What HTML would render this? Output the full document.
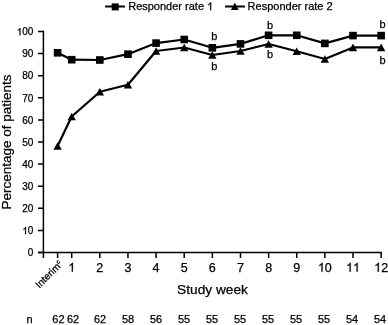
<!DOCTYPE html><html><head><meta charset="utf-8"><style>html,body{margin:0;padding:0;background:#fff;}svg{display:block;filter:grayscale(1);}text{font-family:"Liberation Sans",sans-serif;fill:#000;stroke:#000;stroke-width:0.25px;}</style></head><body>
<svg width="388" height="325" viewBox="0 0 388 325">
<rect width="388" height="325" fill="#fff"/>
<g stroke="#000" stroke-width="1.5" fill="none">
<path d="M43.4 30.65 V258 M38 252.6 H381.85"/>
<path d="M38 252.60 H43.4 M38 230.48 H43.4 M38 208.36 H43.4 M38 186.24 H43.4 M38 164.12 H43.4 M38 142.00 H43.4 M38 119.88 H43.4 M38 97.76 H43.4 M38 75.64 H43.4 M38 53.52 H43.4 M38 31.40 H43.4 "/>
<path d="M57.60 252.6 V258 M71.70 252.6 V258 M99.83 252.6 V258 M127.96 252.6 V258 M156.09 252.6 V258 M184.22 252.6 V258 M212.35 252.6 V258 M240.48 252.6 V258 M268.61 252.6 V258 M296.74 252.6 V258 M324.87 252.6 V258 M353.00 252.6 V258 M381.13 252.6 V258 "/>
</g>
<text x="27.838" y="256.400" font-size="10">0</text>
<path transform="translate(22.277 234.280) scale(0.004883 -0.004883)" stroke="#000" stroke-width="51.20" d="M763 0L583 0L583 1147Q518 1085 412 1023Q307 961 223 930L223 1104Q374 1175 487 1276Q600 1377 647 1472L763 1472Z"/><text x="27.838" y="234.280" font-size="10">0</text>
<text x="22.277" y="212.160" font-size="10">20</text>
<text x="22.277" y="190.040" font-size="10">30</text>
<text x="22.277" y="167.920" font-size="10">40</text>
<text x="22.277" y="145.800" font-size="10">50</text>
<text x="22.277" y="123.680" font-size="10">60</text>
<text x="22.277" y="101.560" font-size="10">70</text>
<text x="22.277" y="79.440" font-size="10">80</text>
<text x="22.277" y="57.320" font-size="10">90</text>
<path transform="translate(16.715 35.200) scale(0.004883 -0.004883)" stroke="#000" stroke-width="51.20" d="M763 0L583 0L583 1147Q518 1085 412 1023Q307 961 223 930L223 1104Q374 1175 487 1276Q600 1377 647 1472L763 1472Z"/><text x="22.277" y="35.200" font-size="10">00</text>
<path transform="translate(68.224 271.700) scale(0.006104 -0.006104)" stroke="#000" stroke-width="40.96" d="M763 0L583 0L583 1147Q518 1085 412 1023Q307 961 223 930L223 1104Q374 1175 487 1276Q600 1377 647 1472L763 1472Z"/>
<text x="96.354" y="271.700" font-size="12.5">2</text>
<text x="124.484" y="271.700" font-size="12.5">3</text>
<text x="152.614" y="271.700" font-size="12.5">4</text>
<text x="180.744" y="271.700" font-size="12.5">5</text>
<text x="208.874" y="271.700" font-size="12.5">6</text>
<text x="237.004" y="271.700" font-size="12.5">7</text>
<text x="265.134" y="271.700" font-size="12.5">8</text>
<text x="293.264" y="271.700" font-size="12.5">9</text>
<path transform="translate(317.918 271.700) scale(0.006104 -0.006104)" stroke="#000" stroke-width="40.96" d="M763 0L583 0L583 1147Q518 1085 412 1023Q307 961 223 930L223 1104Q374 1175 487 1276Q600 1377 647 1472L763 1472Z"/><text x="324.870" y="271.700" font-size="12.5">0</text>
<path transform="translate(346.048 271.700) scale(0.006104 -0.006104)" stroke="#000" stroke-width="40.96" d="M763 0L583 0L583 1147Q518 1085 412 1023Q307 961 223 930L223 1104Q374 1175 487 1276Q600 1377 647 1472L763 1472Z"/><path transform="translate(353.000 271.700) scale(0.006104 -0.006104)" stroke="#000" stroke-width="40.96" d="M763 0L583 0L583 1147Q518 1085 412 1023Q307 961 223 930L223 1104Q374 1175 487 1276Q600 1377 647 1472L763 1472Z"/>
<path transform="translate(374.178 271.700) scale(0.006104 -0.006104)" stroke="#000" stroke-width="40.96" d="M763 0L583 0L583 1147Q518 1085 412 1023Q307 961 223 930L223 1104Q374 1175 487 1276Q600 1377 647 1472L763 1472Z"/><text x="381.130" y="271.700" font-size="12.5">2</text>
<text transform="translate(63.2 264.9) rotate(-45)" font-size="10" text-anchor="end">Interim<tspan font-size="6" dy="-4">c</tspan></text>
<text x="212.5" y="294.3" font-size="13.7" text-anchor="middle">Study week</text>
<text transform="translate(11.1 142.0) rotate(-90)" font-size="13.5" text-anchor="middle">Percentage of patients</text>
<g stroke="#000" stroke-width="2.2" fill="none" stroke-linejoin="round">
<polyline points="57.60,52.80 71.70,59.70 99.83,60.00 127.96,54.20 156.09,43.10 184.22,39.50 212.35,47.80 240.48,43.90 268.61,35.30 296.74,35.30 324.87,43.40 353.00,35.60 381.13,35.60"/>
<polyline points="57.60,146.00 71.70,116.50 99.83,91.80 127.96,84.70 156.09,51.00 184.22,47.50 212.35,55.00 240.48,51.00 268.61,44.00 296.74,51.20 324.87,59.00 353.00,47.40 381.13,47.40"/>
</g>
<rect x="53.80" y="49.00" width="7.6" height="7.6" fill="#000"/>
<rect x="67.90" y="55.90" width="7.6" height="7.6" fill="#000"/>
<rect x="96.03" y="56.20" width="7.6" height="7.6" fill="#000"/>
<rect x="124.16" y="50.40" width="7.6" height="7.6" fill="#000"/>
<rect x="152.29" y="39.30" width="7.6" height="7.6" fill="#000"/>
<rect x="180.42" y="35.70" width="7.6" height="7.6" fill="#000"/>
<rect x="208.55" y="44.00" width="7.6" height="7.6" fill="#000"/>
<rect x="236.68" y="40.10" width="7.6" height="7.6" fill="#000"/>
<rect x="264.81" y="31.50" width="7.6" height="7.6" fill="#000"/>
<rect x="292.94" y="31.50" width="7.6" height="7.6" fill="#000"/>
<rect x="321.07" y="39.60" width="7.6" height="7.6" fill="#000"/>
<rect x="349.20" y="31.80" width="7.6" height="7.6" fill="#000"/>
<rect x="377.33" y="31.80" width="7.6" height="7.6" fill="#000"/>
<path d="M57.60 142.20 L61.80 149.80 L53.40 149.80 Z" fill="#000"/>
<path d="M71.70 112.70 L75.90 120.30 L67.50 120.30 Z" fill="#000"/>
<path d="M99.83 88.00 L104.03 95.60 L95.63 95.60 Z" fill="#000"/>
<path d="M127.96 80.90 L132.16 88.50 L123.76 88.50 Z" fill="#000"/>
<path d="M156.09 47.20 L160.29 54.80 L151.89 54.80 Z" fill="#000"/>
<path d="M184.22 43.70 L188.42 51.30 L180.02 51.30 Z" fill="#000"/>
<path d="M212.35 51.20 L216.55 58.80 L208.15 58.80 Z" fill="#000"/>
<path d="M240.48 47.20 L244.68 54.80 L236.28 54.80 Z" fill="#000"/>
<path d="M268.61 40.20 L272.81 47.80 L264.41 47.80 Z" fill="#000"/>
<path d="M296.74 47.40 L300.94 55.00 L292.54 55.00 Z" fill="#000"/>
<path d="M324.87 55.20 L329.07 62.80 L320.67 62.80 Z" fill="#000"/>
<path d="M353.00 43.60 L357.20 51.20 L348.80 51.20 Z" fill="#000"/>
<path d="M381.13 43.60 L385.33 51.20 L376.93 51.20 Z" fill="#000"/>
<text x="214.3" y="39.6" font-size="11" text-anchor="middle">b</text>
<text x="214.3" y="70.3" font-size="11" text-anchor="middle">b</text>
<text x="270" y="28.6" font-size="11" text-anchor="middle">b</text>
<text x="270" y="58.4" font-size="11" text-anchor="middle">b</text>
<text x="382.5" y="28" font-size="11" text-anchor="middle">b</text>
<text x="382.5" y="63.5" font-size="11" text-anchor="middle">b</text>
<g stroke="#000" stroke-width="2.2"><path d="M105.1 6.5 H124.9 M225.1 6.5 H244.9"/></g>
<rect x="111.7" y="3.4" width="7" height="7" fill="#000"/>
<path d="M234.8 2.6 L238.7 9.9 L230.9 9.9 Z" fill="#000"/>
<text x="128.2" y="10.2" font-size="11">Responder rate </text>
<path transform="translate(207.080 10.200) scale(0.005371 -0.005371)" stroke="#000" stroke-width="46.55" d="M763 0L583 0L583 1147Q518 1085 412 1023Q307 961 223 930L223 1104Q374 1175 487 1276Q600 1377 647 1472L763 1472Z"/>
<text x="247.6" y="10.2" font-size="11">Responder rate 2</text>
<text x="29.5" y="322.5" font-size="11" text-anchor="middle">n</text>
<text x="58.40" y="322.5" font-size="11" text-anchor="middle">62</text>
<text x="73.10" y="322.5" font-size="11" text-anchor="middle">62</text>
<text x="100.10" y="322.5" font-size="11" text-anchor="middle">62</text>
<text x="128.10" y="322.5" font-size="11" text-anchor="middle">58</text>
<text x="156.10" y="322.5" font-size="11" text-anchor="middle">56</text>
<text x="184.10" y="322.5" font-size="11" text-anchor="middle">55</text>
<text x="212.10" y="322.5" font-size="11" text-anchor="middle">55</text>
<text x="240.10" y="322.5" font-size="11" text-anchor="middle">55</text>
<text x="268.10" y="322.5" font-size="11" text-anchor="middle">55</text>
<text x="296.10" y="322.5" font-size="11" text-anchor="middle">55</text>
<text x="324.10" y="322.5" font-size="11" text-anchor="middle">55</text>
<text x="352.10" y="322.5" font-size="11" text-anchor="middle">54</text>
<text x="380.10" y="322.5" font-size="11" text-anchor="middle">54</text>
</svg></body></html>
